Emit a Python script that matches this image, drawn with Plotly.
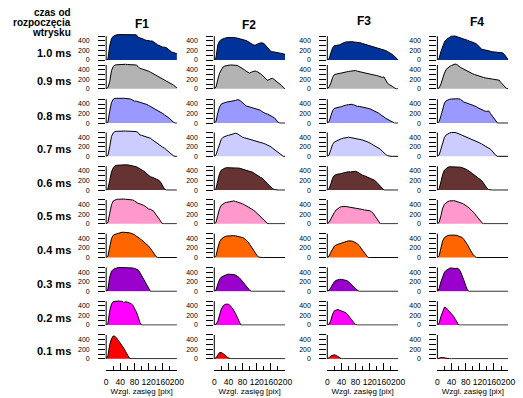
import plotly.graph_objects as go

# ---------------- data ----------------
distance = [0, 5, 10, 15, 20, 25, 30, 35, 40, 45, 50, 55, 60, 65, 70, 75, 80, 85, 90, 95, 100,
            105, 110, 115, 120, 125, 130, 135, 140, 145, 150, 155, 160, 165, 170, 175, 180, 185, 190, 195, 200]

columns = ["F1", "F2", "F3", "F4"]
rows = ["1.0 ms", "0.9 ms", "0.8 ms", "0.7 ms", "0.6 ms", "0.5 ms", "0.4 ms", "0.3 ms", "0.2 ms", "0.1 ms"]
row_colors = ["#003399", "#b3b3b3", "#9999ff", "#ccccff", "#663333",
              "#ff99cc", "#ff6600", "#9900cc", "#ff00ff", "#ff0000"]
y_tick_vals = [0, 100, 200, 300, 400, 500]
y_tick_text = ["0", "", "200", "", "400", ""]
x_tick_vals = [0, 40, 80, 120, 160, 200]
x_minor_vals = [20, 60, 100, 140, 180]

# F1
f1_10 = [0, 20, 300, 450, 500, 520, 530, 535, 535, 535, 530, 535, 535, 535, 530, 535, 540, 530, 480, 470, 450,
         440, 420, 410, 415, 400, 400, 380, 350, 320, 300, 280, 270, 270, 260, 230, 190, 170, 160, 150, 130]
f1_09 = [0, 30, 150, 380, 470, 500, 505, 510, 510, 515, 510, 515, 510, 510, 515, 510, 510, 500, 470, 430, 420,
         410, 400, 380, 370, 350, 330, 310, 290, 270, 250, 230, 210, 190, 170, 150, 130, 110, 80, 50, 20]
f1_08 = [0, 20, 250, 430, 500, 520, 520, 525, 525, 520, 520, 520, 515, 510, 500, 470, 460, 460, 450, 440, 420,
         410, 400, 390, 370, 350, 320, 300, 280, 260, 240, 220, 200, 170, 150, 120, 90, 50, 20, 0, 0]
f1_07 = [0, 20, 200, 420, 490, 520, 525, 530, 530, 530, 530, 530, 530, 530, 530, 530, 525, 520, 500, 450, 440,
         430, 420, 410, 400, 380, 350, 320, 290, 260, 230, 210, 190, 170, 140, 100, 60, 30, 10, 0, 0]
f1_06 = [0, 30, 200, 380, 470, 510, 520, 525, 530, 530, 525, 530, 530, 525, 520, 510, 500, 490, 470, 450, 420,
         400, 380, 340, 300, 280, 270, 250, 230, 220, 200, 150, 80, 20, 0, 0, 0, 0, 0, 0, 0]
f1_05 = [0, 30, 220, 400, 480, 505, 515, 515, 520, 515, 520, 515, 515, 510, 505, 500, 480, 450, 430, 420, 410,
         390, 370, 340, 310, 305, 290, 260, 200, 160, 100, 40, 0, 0, 0, 0, 0, 0, 0, 0, 0]
f1_04 = [0, 30, 220, 400, 470, 490, 500, 510, 525, 530, 530, 530, 525, 520, 510, 500, 480, 450, 430, 400, 370,
         340, 320, 290, 240, 190, 150, 90, 30, 0, 0, 0, 0, 0, 0, 0, 0, 0, 0, 0, 0]
f1_03 = [0, 50, 300, 420, 460, 480, 490, 500, 500, 505, 500, 505, 500, 500, 495, 490, 480, 470, 450, 400, 330,
         260, 190, 110, 40, 0, 0, 0, 0, 0, 0, 0, 0, 0, 0, 0, 0, 0, 0, 0, 0]
f1_02 = [0, 30, 300, 440, 490, 500, 505, 505, 500, 500, 470, 490, 480, 470, 450, 420, 360, 280, 180, 60, 0,
         0, 0, 0, 0, 0, 0, 0, 0, 0, 0, 0, 0, 0, 0, 0, 0, 0, 0, 0, 0]
f1_01 = [0, 60, 300, 420, 480, 470, 430, 380, 330, 270, 220, 150, 80, 20, 0, 0, 0, 0, 0, 0, 0,
         0, 0, 0, 0, 0, 0, 0, 0, 0, 0, 0, 0, 0, 0, 0, 0, 0, 0, 0, 0]

# F2
f2_10 = [0, 60, 320, 400, 430, 450, 460, 470, 475, 480, 480, 475, 470, 460, 455, 450, 440, 420, 410, 390, 360,
         340, 320, 310, 330, 350, 360, 360, 350, 310, 270, 220, 180, 175, 170, 170, 165, 150, 140, 130, 120]
f2_09 = [0, 40, 200, 330, 400, 460, 480, 490, 495, 500, 500, 495, 500, 490, 470, 450, 420, 400, 370, 340, 330,
         350, 370, 375, 365, 350, 320, 290, 250, 210, 180, 190, 215, 220, 190, 160, 150, 110, 70, 30, 0]
f2_08 = [0, 40, 220, 340, 400, 420, 430, 440, 445, 450, 455, 465, 475, 490, 485, 460, 420, 390, 360, 350, 340,
         320, 310, 300, 300, 290, 270, 240, 210, 200, 190, 175, 150, 130, 110, 60, 20, 0, 0, 0, 0]
f2_07 = [0, 30, 150, 280, 360, 400, 420, 430, 440, 450, 460, 470, 485, 475, 450, 420, 400, 390, 380, 370, 355,
         345, 335, 325, 320, 310, 300, 285, 270, 255, 240, 220, 200, 170, 140, 110, 80, 40, 10, 0, 0]
f2_06 = [0, 30, 200, 350, 420, 450, 460, 470, 470, 465, 470, 475, 470, 465, 460, 450, 440, 430, 420, 410, 400,
         390, 370, 340, 310, 290, 270, 250, 220, 180, 140, 100, 60, 30, 10, 0, 0, 0, 0, 0, 0]
f2_05 = [0, 30, 180, 320, 390, 420, 440, 450, 460, 470, 475, 480, 470, 460, 450, 440, 420, 400, 380, 360, 340,
         320, 290, 260, 230, 200, 160, 120, 80, 40, 10, 0, 0, 0, 0, 0, 0, 0, 0, 0, 0]
f2_04 = [0, 40, 200, 330, 390, 420, 440, 450, 455, 460, 450, 460, 455, 450, 440, 430, 420, 400, 370, 330, 280,
         220, 160, 100, 50, 10, 0, 0, 0, 0, 0, 0, 0, 0, 0, 0, 0, 0, 0, 0, 0]
f2_03 = [0, 30, 150, 250, 300, 320, 340, 350, 360, 360, 355, 350, 340, 320, 290, 250, 200, 150, 100, 60, 20,
         0, 0, 0, 0, 0, 0, 0, 0, 0, 0, 0, 0, 0, 0, 0, 0, 0, 0, 0, 0]
f2_02 = [0, 20, 80, 230, 340, 400, 430, 440, 435, 410, 370, 310, 240, 150, 50, 0, 0, 0, 0, 0, 0,
         0, 0, 0, 0, 0, 0, 0, 0, 0, 0, 0, 0, 0, 0, 0, 0, 0, 0, 0, 0]
f2_01 = [0, 20, 80, 130, 130, 110, 80, 40, 10, 0, 0, 0, 0, 0, 0, 0, 0, 0, 0, 0, 0,
         0, 0, 0, 0, 0, 0, 0, 0, 0, 0, 0, 0, 0, 0, 0, 0, 0, 0, 0, 0]

# F3
f3_10 = [0, 30, 150, 260, 300, 305, 310, 320, 340, 360, 375, 380, 385, 380, 385, 380, 375, 380, 375, 360, 345,
         335, 320, 310, 300, 290, 280, 270, 260, 250, 240, 230, 225, 200, 180, 160, 140, 110, 80, 40, 0]
f3_09 = [0, 40, 120, 240, 300, 310, 320, 325, 330, 345, 355, 360, 365, 370, 375, 390, 385, 370, 360, 355, 350,
         340, 330, 320, 310, 300, 290, 285, 280, 270, 245, 240, 250, 170, 120, 90, 60, 45, 20, 0, 0]
f3_08 = [0, 30, 150, 260, 310, 315, 320, 330, 345, 360, 375, 380, 385, 390, 395, 380, 360, 350, 350, 345, 340,
         330, 320, 310, 300, 285, 270, 250, 230, 210, 180, 160, 130, 100, 80, 50, 30, 10, 0, 0, 0]
f3_07 = [0, 30, 140, 250, 300, 320, 340, 360, 370, 380, 390, 395, 400, 395, 390, 385, 380, 370, 360, 350, 340,
         330, 320, 300, 280, 260, 240, 220, 200, 180, 150, 110, 70, 40, 15, 0, 0, 0, 0, 0, 0]
f3_06 = [0, 30, 130, 250, 310, 330, 335, 340, 350, 370, 380, 380, 385, 380, 385, 390, 395, 380, 350, 325, 310,
         300, 285, 270, 250, 230, 215, 200, 160, 120, 90, 40, 0, 0, 0, 0, 0, 0, 0, 0, 0]
f3_05 = [0, 30, 100, 180, 240, 290, 320, 345, 360, 370, 365, 360, 355, 350, 345, 340, 335, 330, 320, 305, 300,
         290, 285, 280, 275, 250, 220, 160, 110, 40, 0, 0, 0, 0, 0, 0, 0, 0, 0, 0, 0]
f3_04 = [0, 30, 110, 180, 240, 265, 280, 290, 305, 315, 330, 340, 350, 350, 345, 330, 315, 290, 250, 200, 140,
         90, 40, 0, 0, 0, 0, 0, 0, 0, 0, 0, 0, 0, 0, 0, 0, 0, 0, 0, 0]
f3_03 = [0, 20, 80, 150, 200, 230, 245, 250, 250, 245, 240, 225, 200, 170, 130, 90, 50, 20, 0, 0, 0,
         0, 0, 0, 0, 0, 0, 0, 0, 0, 0, 0, 0, 0, 0, 0, 0, 0, 0, 0, 0]
f3_02 = [0, 20, 100, 230, 300, 320, 325, 310, 300, 285, 265, 240, 200, 160, 100, 50, 10, 0, 0, 0, 0,
         0, 0, 0, 0, 0, 0, 0, 0, 0, 0, 0, 0, 0, 0, 0, 0, 0, 0, 0, 0]
f3_01 = [0, 20, 60, 80, 85, 70, 40, 10, 0, 0, 0, 0, 0, 0, 0, 0, 0, 0, 0, 0, 0,
         0, 0, 0, 0, 0, 0, 0, 0, 0, 0, 0, 0, 0, 0, 0, 0, 0, 0, 0, 0]

# F4
f4_10 = [0, 40, 180, 300, 380, 430, 460, 480, 500, 510, 505, 490, 480, 470, 455, 445, 430, 415, 400, 390, 375,
         360, 340, 300, 250, 230, 220, 215, 205, 200, 185, 175, 170, 165, 165, 160, 155, 150, 110, 60, 10]
f4_09 = [0, 20, 100, 230, 330, 410, 450, 470, 490, 500, 520, 510, 470, 450, 430, 410, 380, 360, 340, 330, 315,
         300, 285, 270, 260, 250, 240, 230, 220, 215, 210, 205, 200, 195, 190, 180, 130, 90, 40, 10, 0]
f4_08 = [0, 30, 150, 310, 420, 470, 490, 500, 505, 510, 515, 515, 510, 500, 460, 440, 430, 410, 400, 390, 380,
         360, 345, 320, 300, 280, 265, 250, 245, 255, 200, 150, 80, 30, 0, 0, 0, 0, 0, 0, 0]
f4_07 = [0, 30, 150, 300, 400, 450, 480, 490, 500, 505, 500, 490, 475, 455, 440, 425, 410, 395, 380, 365, 350,
         335, 320, 300, 280, 260, 240, 220, 200, 180, 150, 110, 60, 20, 0, 0, 0, 0, 0, 0, 0]
f4_06 = [0, 30, 170, 330, 420, 460, 480, 490, 490, 495, 490, 490, 485, 480, 470, 460, 440, 420, 400, 370, 340,
         310, 280, 260, 240, 200, 150, 90, 40, 10, 0, 0, 0, 0, 0, 0, 0, 0, 0, 0, 0]
f4_05 = [0, 30, 170, 330, 410, 450, 470, 480, 490, 485, 480, 470, 460, 445, 430, 410, 390, 360, 330, 300, 260,
         220, 170, 120, 70, 30, 0, 0, 0, 0, 0, 0, 0, 0, 0, 0, 0, 0, 0, 0, 0]
f4_04 = [0, 40, 200, 350, 420, 450, 465, 470, 475, 470, 470, 465, 455, 440, 420, 380, 330, 270, 200, 130, 70,
         30, 0, 0, 0, 0, 0, 0, 0, 0, 0, 0, 0, 0, 0, 0, 0, 0, 0, 0, 0]
f4_03 = [0, 60, 200, 310, 400, 440, 470, 485, 490, 480, 475, 485, 470, 420, 340, 230, 120, 20, 0, 0, 0,
         0, 0, 0, 0, 0, 0, 0, 0, 0, 0, 0, 0, 0, 0, 0, 0, 0, 0, 0, 0]
f4_02 = [0, 40, 180, 300, 375, 360, 320, 290, 250, 190, 130, 60, 0, 0, 0, 0, 0, 0, 0, 0, 0,
         0, 0, 0, 0, 0, 0, 0, 0, 0, 0, 0, 0, 0, 0, 0, 0, 0, 0, 0, 0]
f4_01 = [0, 15, 25, 25, 15, 5, 0, 0, 0, 0, 0, 0, 0, 0, 0, 0, 0, 0, 0, 0, 0,
         0, 0, 0, 0, 0, 0, 0, 0, 0, 0, 0, 0, 0, 0, 0, 0, 0, 0, 0, 0]

series = [
    [f1_10, f1_09, f1_08, f1_07, f1_06, f1_05, f1_04, f1_03, f1_02, f1_01],
    [f2_10, f2_09, f2_08, f2_07, f2_06, f2_05, f2_04, f2_03, f2_02, f2_01],
    [f3_10, f3_09, f3_08, f3_07, f3_06, f3_05, f3_04, f3_03, f3_02, f3_01],
    [f4_10, f4_09, f4_08, f4_07, f4_06, f4_05, f4_04, f4_03, f4_02, f4_01],
]

# ---------------- layout geometry (pixels) ----------------
W, H = 523, 398
FONT = "Liberation Sans, Arial, sans-serif"
col_x0 = [106, 216, 331, 443]
col_w = 72
row_base = [60.5, 89.5, 124, 157.5, 191.5, 225.5, 259.5, 293.5, 327.5, 361.5]
y_min, y_max = -12, 560
px_per_unit = 0.048
title_xy = [(142, 24), (251, 25), (368, 21), (483, 22)]
x_axis_line_px = 373


def px(x):
    return x / W


def py(y):
    return 1 - y / H


fig = go.Figure()
layout = dict(
    width=W, height=H, margin=dict(l=0, r=0, t=0, b=0),
    paper_bgcolor="white", plot_bgcolor="rgba(0,0,0,0)",
    font=dict(family=FONT, color="black"),
    showlegend=False,
)
shapes = []
annotations = []

for c in range(4):
    for r in range(10):
        idx = r * 4 + c + 1
        sfx = "" if idx == 1 else str(idx)
        fig.add_trace(go.Scatter(
            x=distance, y=series[c][r], mode="lines",
            fill="tozeroy", fillcolor=row_colors[r],
            line=dict(color="black", width=1),
            xaxis="x" + sfx, yaxis="y" + sfx, hoverinfo="skip",
        ))
        xa = dict(domain=[px(col_x0[c]), px(col_x0[c] + col_w)], range=[0, 200],
                  anchor="y" + sfx, showgrid=False, zeroline=False, fixedrange=True)
        if r == 9:
            xa.update(anchor="free", position=py(x_axis_line_px), showline=True,
                      linecolor="black", linewidth=1, ticks="inside", ticklen=7,
                      tickcolor="black", tickvals=x_tick_vals, tickangle=0,
                      ticktext=[str(v) for v in x_tick_vals],
                      ticklabelstandoff=4,
                      tickfont=dict(size=8.5, family=FONT, color="black"),
                      minor=dict(tickvals=x_minor_vals, ticks="inside", ticklen=4,
                                 tickcolor="black"),
                      title=dict(text="Wzgl. zasięg [pix]",
                                 font=dict(size=8, family=FONT, color="black"),
                                 standoff=0))
        else:
            xa.update(visible=False)
        base = row_base[r]
        ya = dict(domain=[py(base - y_min * px_per_unit), py(base - y_max * px_per_unit)],
                  range=[y_min, y_max],
                  anchor="x" + sfx, showgrid=False, zeroline=False, showline=False,
                  ticks="outside", ticklen=7, tickcolor="black", tickwidth=1,
                  ticklabelstandoff=7,
                  tickvals=y_tick_vals, ticktext=y_tick_text,
                  tickfont=dict(size=7, family=FONT, color="black"), fixedrange=True)
        layout["xaxis" + sfx] = xa
        layout["yaxis" + sfx] = ya
        shapes.append(dict(type="line", xref="x" + sfx + " domain", yref="y" + sfx,
                           x0=0, x1=0, y0=0, y1=500,
                           line=dict(color="black", width=1)))

for c, name in enumerate(columns):
    tx, ty = title_xy[c]
    annotations.append(dict(text="<b>" + name + "</b>", x=px(tx), y=py(ty),
                            xref="paper", yref="paper", showarrow=False,
                            xanchor="center", yanchor="middle",
                            font=dict(size=12, family=FONT)))

for r, name in enumerate(rows):
    annotations.append(dict(text="<b>" + name + "</b>", x=px(72), y=py(row_base[r] - 7.5),
                            xref="paper", yref="paper", showarrow=False,
                            xanchor="right", yanchor="middle",
                            font=dict(size=11, family=FONT)))

for i, line in enumerate(["czas od", "rozpoczęcia", "wtrysku"]):
    annotations.append(dict(text="<b>" + line + "</b>", x=px(72), y=py(13 + 10 * i),
                            xref="paper", yref="paper", showarrow=False,
                            xanchor="right", yanchor="middle",
                            font=dict(size=10, family=FONT)))

layout["shapes"] = shapes
layout["annotations"] = annotations
fig.update_layout(**layout)
fig.write_html("out.html")
